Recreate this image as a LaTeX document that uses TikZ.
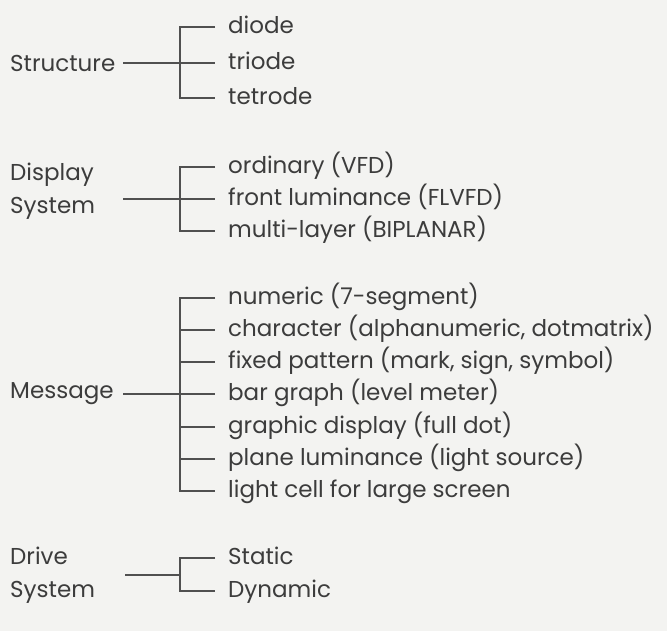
\documentclass[tikz,border=0pt]{standalone}
\usepackage{fontspec}
\setmainfont{Poppins}
\definecolor{ink}{HTML}{3C3C3C}
\definecolor{wire}{HTML}{505050}
\definecolor{bg}{HTML}{F3F3F1}
\begin{document}
\begin{tikzpicture}[x=1pt,y=-1pt,
  lab/.style={anchor=west,inner sep=0pt,font=\fontsize{23}{33}\selectfont,text=ink,text height=16pt,text depth=3.4pt},
  head/.style={anchor=west,inner sep=0pt,align=left,font=\fontsize{23}{33}\selectfont,text=ink},
  conn/.style={draw=wire,line width=1.2pt}]
\fill[bg] (0,0) rectangle (667,631);
\useasboundingbox (0,0) rectangle (667,631);
% ---- Structure
\node[head] (struct) at (10,63) {Structure};
\coordinate (sa) at (123,63);
\coordinate (sj) at (180,63);
\node[lab] (s1) at (228,27) {diode};
\node[lab] (s2) at (228,63) {triode};
\node[lab] (s3) at (228,98) {tetrode};
\draw[conn] (sa) -- (sj);
\draw[conn] ([xshift=-13pt]s1.west) -- (s1.west -| sj) -- (s3.west -| sj) -- ([xshift=-13pt]s3.west);
\draw[conn] (s2.west -| sj) -- ([xshift=-13pt]s2.west);
% ---- Display System
\node[head] (disp) at (10,191) {Display\\System};
\coordinate (da) at (123,199);
\coordinate (dj) at (180,199);
\node[lab] (d1) at (228,167) {ordinary (VFD)};
\node[lab] (d2) at (228,199) {front luminance (FLVFD)};
\node[lab] (d3) at (228,231) {multi-layer (BIPLANAR)};
\draw[conn] (da) -- (dj);
\draw[conn] ([xshift=-13pt]d1.west) -- (d1.west -| dj) -- (d3.west -| dj) -- ([xshift=-13pt]d3.west);
\draw[conn] (d2.west -| dj) -- ([xshift=-13pt]d2.west);
% ---- Message
\node[head] (msg) at (10,394) {Message};
\coordinate (ma) at (123,394);
\coordinate (mj) at (180,394);
\node[lab] (m1) at (228,298) {numeric (7-segment)};
\node[lab] (m2) at (228,330) {character (alphanumeric, dotmatrix)};
\node[lab] (m3) at (228,362) {fixed pattern (mark, sign, symbol)};
\node[lab] (m4) at (228,394) {bar graph (level meter)};
\node[lab] (m5) at (228,427) {graphic display (full dot)};
\node[lab] (m6) at (228,459) {plane luminance (light source)};
\node[lab] (m7) at (228,491) {light cell for large screen};
\draw[conn] (ma) -- (mj);
\draw[conn] ([xshift=-13pt]m1.west) -- (m1.west -| mj) -- (m7.west -| mj) -- ([xshift=-13pt]m7.west);
\foreach \n in {m2,m3,m4,m5,m6}
  \draw[conn] (\n.west -| mj) -- ([xshift=-13pt]\n.west);
% ---- Drive System
\node[head] (drive) at (10,575) {Drive\\System};
\coordinate (va) at (125,575);
\coordinate (vj) at (180,575);
\node[lab] (v1) at (228,558) {Static};
\node[lab] (v2) at (228,591) {Dynamic};
\draw[conn] (va) -- (vj);
\draw[conn] ([xshift=-13pt]v1.west) -- (v1.west -| vj) -- (v2.west -| vj) -- ([xshift=-13pt]v2.west);
\end{tikzpicture}
\end{document}
